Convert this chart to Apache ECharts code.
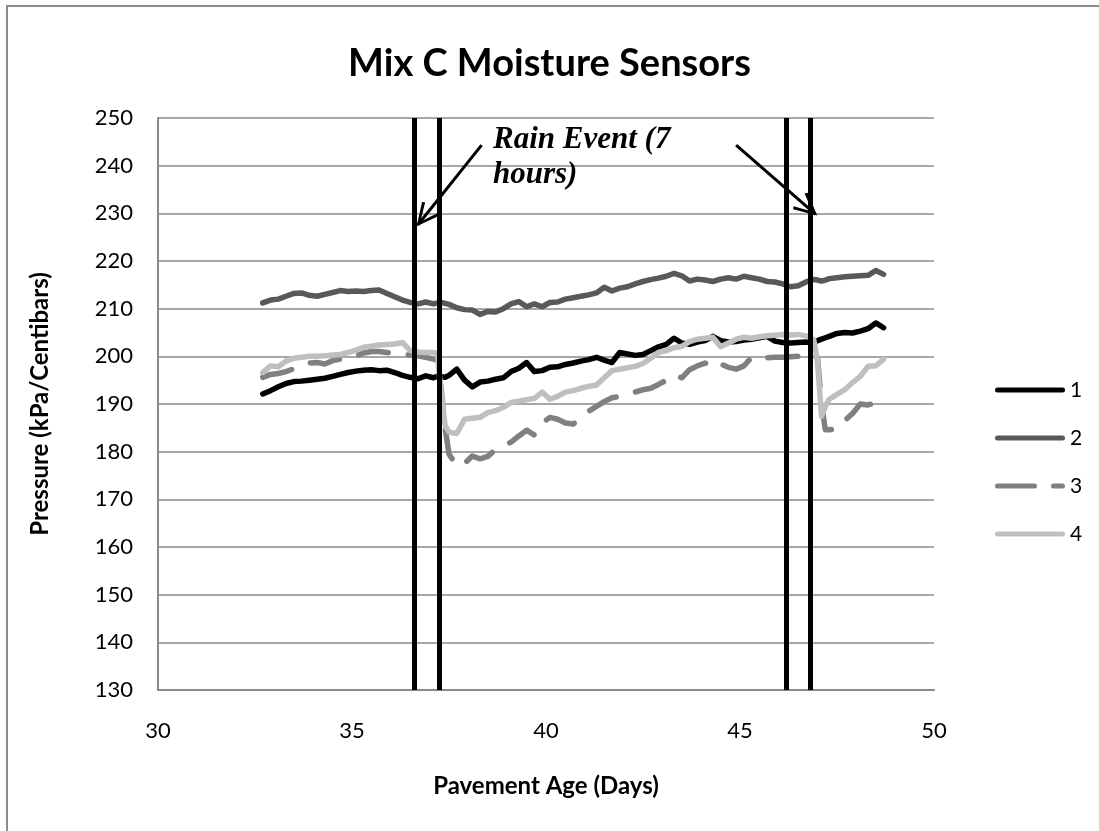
<!DOCTYPE html>
<html>
<head>
<meta charset="utf-8">
<script src="https://cdn.jsdelivr.net/npm/echarts@6/dist/echarts.min.js"></script>
<style>
  html, body { margin: 0; padding: 0; background: #fff; }
  #main { width: 1099px; height: 831px; }
</style>
</head>
<body>
<div id="main"></div>
<script>
// pavement age (days), shared by all four sensors
var days = [
  32.7, 32.9, 33.1, 33.3, 33.5, 33.7, 33.9, 34.1, 34.3, 34.5, 34.7, 34.9, 35.1, 35.3, 35.5, 35.7, 35.9, 36.1, 36.3, 36.5, 36.7, 36.9, 37.1,
  37.2, 37.3, 37.4,
  37.5, 37.7, 37.9, 38.1, 38.3, 38.5, 38.7, 38.9, 39.1, 39.3, 39.5, 39.7, 39.9, 40.1, 40.3, 40.5, 40.7, 40.9,
  41.1, 41.3, 41.5, 41.7, 41.9, 42.1, 42.3, 42.5, 42.7, 42.9, 43.1, 43.3, 43.5, 43.7, 43.9,
  44.1, 44.3, 44.5, 44.7, 44.9, 45.1, 45.3, 45.5, 45.7, 45.9, 46.1, 46.3, 46.5, 46.7, 46.9,
  47.0, 47.1, 47.2, 47.3,
  47.5, 47.7, 47.9, 48.1, 48.3, 48.5, 48.7
];

var sensor1 = [
  192.1, 192.8, 193.6, 194.3, 194.7, 194.8, 195.0, 195.2, 195.4, 195.8, 196.2, 196.6, 196.9, 197.1, 197.2, 197.0, 197.1, 196.6, 196.0, 195.6, 195.3, 195.9, 195.5,
  195.8, 195.7, 195.6,
  196.0, 197.3, 195.0, 193.6, 194.6, 194.8, 195.2, 195.5, 196.8, 197.5, 198.7, 196.8, 197.0, 197.7, 197.8, 198.3, 198.6, 199.0,
  199.3, 199.8, 199.2, 198.7, 200.8, 200.5, 200.2, 200.4, 201.2, 202.0, 202.5, 203.8, 202.8, 202.5, 203.0,
  203.3, 204.2, 203.3, 203.0, 203.1, 203.4, 203.6, 203.9, 204.2, 203.2, 202.9, 202.8, 202.9, 203.0, 202.9,
  203.3, 203.6, 203.9, 204.2,
  204.8, 205.0, 204.9, 205.3, 205.8, 207.0, 206.0
];

var sensor2 = [
  211.2, 211.8, 212.0, 212.6, 213.2, 213.3, 212.8, 212.6, 213.0, 213.4, 213.8, 213.6, 213.7, 213.6, 213.8, 213.9, 213.2, 212.5, 211.8, 211.3, 211.0, 211.4, 211.0,
  211.2, 211.3, 211.1,
  210.9, 210.2, 209.8, 209.7, 208.8, 209.4, 209.3, 210.0, 211.0, 211.5, 210.4, 211.0, 210.4, 211.3, 211.4, 212.0, 212.3, 212.6,
  212.9, 213.3, 214.5, 213.7, 214.3, 214.6, 215.2, 215.7, 216.1, 216.4, 216.8, 217.4, 216.9, 215.8, 216.2,
  216.0, 215.7, 216.2, 216.5, 216.2, 216.8, 216.5, 216.2, 215.7, 215.6, 215.2, 214.6, 214.8, 215.6, 216.1,
  216.0, 215.8, 216.0, 216.3,
  216.5, 216.7, 216.8, 216.9, 217.0, 218.0, 217.2
];

var sensor3 = [
  195.6, 196.2, 196.4, 196.8, 197.4, 198.2, 198.6, 198.7, 198.4, 199.1, 199.4, 199.6, 200.1, 200.7, 201.0, 201.0, 200.8, 200.6, 200.4, 200.3, 200.1, 199.8, 199.4,
  199.2, 193.0, 185.0,
  179.5, 177.0, 177.5, 179.1, 178.5, 179.0, 180.5, 181.2, 182.0, 183.3, 184.5, 183.5, 186.0, 187.2, 186.8, 186.0, 185.8, 187.0,
  188.5, 189.5, 190.5, 191.3, 191.6, 192.0, 192.5, 193.0, 193.3, 194.1, 195.0, 196.2, 195.5, 197.2, 198.0,
  198.6, 197.6, 198.4, 197.7, 197.3, 198.0, 199.8, 199.6, 199.7, 199.8, 199.8, 199.9, 200.0, 200.6, 200.5,
  199.5, 190.0, 184.6, 184.6,
  184.8, 186.5, 188.0, 190.0, 189.8, 190.3, 192.7
];

var sensor4 = [
  196.6, 198.0, 197.8, 199.0, 199.6, 199.8, 200.0, 200.0, 200.1, 200.3, 200.4, 200.8, 201.3, 201.9, 202.1, 202.4, 202.5, 202.6, 202.9, 201.2, 200.9, 200.8, 200.8,
  200.6, 192.0, 185.5,
  184.1, 183.8, 186.8, 187.0, 187.2, 188.2, 188.6, 189.3, 190.3, 190.6, 190.9, 191.2, 192.5, 191.0, 191.6, 192.5, 192.8, 193.3,
  193.7, 194.0, 195.5, 197.0, 197.3, 197.6, 197.9, 198.5, 199.6, 200.8, 201.2, 201.8, 202.1, 203.1, 203.6,
  203.8, 204.0, 202.0, 202.8, 203.6, 204.0, 203.8, 204.1, 204.3, 204.4, 204.6, 204.5, 204.6, 204.3, 203.5,
  198.7, 187.4, 189.5, 191.0,
  192.0, 193.0, 194.5, 195.8, 197.9, 198.0, 199.4
];

var seriesNames = ['1', '2', '3', '4'];
// start / end of the two 7-hour rain events
var rainLines = [36.6, 37.25, 46.2, 46.8];
// arrows from the note to the rain lines: [from, to] in (day, kPa)
var arrows = [
  [[38.34, 244.3], [36.7, 227.6]],
  [[44.9, 244.3], [46.95, 229.8]]
];

var xTicks = { min: 30, max: 50, interval: 5 };
var yTicks = { min: 130, max: 250, interval: 10 };

function zip(ys) {
  return days.map(function (d, i) { return [d, ys[i]]; });
}

var myChart = echarts.init(document.getElementById('main'));

var lbl = 'Lato';
var gridGray = '#8a8a8a';
var chevron = 'path://M10,0 L20,19 L17.6,20.5 L10,5 L2.4,20.5 L0,19 Z';
// legend swatches: a thick rounded bar, and the long-dash version
var solidIcon = 'path://M2.5,0 L67.5,0 A2.5,2.5 0 0 1 67.5,5 L2.5,5 A2.5,2.5 0 0 1 2.5,0 Z';
var dashIcon = 'path://M2.5,0 L39.5,0 A2.5,2.5 0 0 1 39.5,5 L2.5,5 A2.5,2.5 0 0 1 2.5,0 Z M58.5,0 L67.5,0 A2.5,2.5 0 0 1 67.5,5 L58.5,5 A2.5,2.5 0 0 1 58.5,0 Z';

function sensorSeries(name, ys, color, dash) {
  return {
    name: name,
    type: 'line',
    data: zip(ys),
    symbol: 'none',
    lineStyle: { color: color, width: 5.5, type: dash || 'solid', cap: 'round', join: 'round' },
    itemStyle: { color: color }
  };
}

var option = {
  backgroundColor: '#fff',
  animation: false,
  title: {
    text: 'Mix C Moisture Sensors',
    left: 'center',
    top: 40,
    textStyle: { fontFamily: lbl, fontWeight: 'bold', fontSize: 38, color: '#000' }
  },
  legend: {
    data: seriesNames.map(function (n) {
      return { name: n, icon: n === '3' ? dashIcon : solidIcon };
    }),
    orient: 'vertical',
    left: 990,
    top: 374,
    itemWidth: 70,
    itemHeight: 5,
    itemGap: 26,
    textStyle: { fontFamily: lbl, fontSize: 21, color: '#000', lineHeight: 22 }
  },
  grid: { left: 158, right: 165, top: 118, bottom: 141 },
  xAxis: {
    type: 'value',
    min: xTicks.min,
    max: xTicks.max,
    interval: xTicks.interval,
    name: 'Pavement Age (Days)',
    nameLocation: 'middle',
    nameGap: 84,
    nameTextStyle: { fontFamily: lbl, fontWeight: 'bold', fontSize: 24, color: '#000' },
    axisLine: { lineStyle: { color: gridGray, width: 2 } },
    axisTick: { show: false },
    splitLine: { show: false },
    axisLabel: { margin: 30, fontFamily: lbl, fontSize: 22, color: '#000' }
  },
  yAxis: {
    type: 'value',
    min: yTicks.min,
    max: yTicks.max,
    interval: yTicks.interval,
    name: 'Pressure (kPa/Centibars)',
    nameLocation: 'middle',
    nameGap: 106,
    nameTextStyle: { fontFamily: lbl, fontWeight: 'bold', fontSize: 24, color: '#000' },
    axisLine: { show: true, lineStyle: { color: gridGray, width: 2 } },
    axisTick: { show: false },
    splitLine: { lineStyle: { color: gridGray, width: 1.5 } },
    axisLabel: { margin: 25, fontFamily: lbl, fontSize: 22, color: '#000' }
  },
  graphic: [
    {
      type: 'rect',
      shape: { x: 7, y: 6, width: 1300, height: 1000 },
      style: { fill: 'none', stroke: '#8c8c8c', lineWidth: 2 },
      silent: true
    },
    {
      type: 'text',
      left: 493,
      top: 122,
      z: 100,
      style: {
        text: 'Rain Event (7\nhours)',
        font: 'italic bold 31px "Liberation Serif"',
        lineHeight: 35,
        fill: '#000'
      }
    }
  ],
  series: [
    sensorSeries('1', sensor1, '#000000'),
    sensorSeries('2', sensor2, '#595959'),
    sensorSeries('3', sensor3, '#808080', [30, 20]),
    sensorSeries('4', sensor4, '#bfbfbf'),
    {
      name: 'rain',
      type: 'line',
      data: [],
      z: 10,
      markLine: {
        silent: true,
        symbol: ['none', 'none'],
        label: { show: false },
        lineStyle: { color: '#000', width: 5, type: 'solid' },
        data: rainLines.map(function (d) { return { xAxis: d }; })
      }
    },
    {
      name: 'note',
      type: 'line',
      data: [],
      z: 11,
      markLine: {
        silent: true,
        symbol: ['none', chevron],
        symbolSize: [22, 24],
        symbolOffset: [0, [0, 10]],
        label: { show: false },
        lineStyle: { color: '#000', width: 3, type: 'solid' },
        itemStyle: { color: '#000' },
        data: arrows.map(function (a) {
          return [{ coord: a[0] }, { coord: a[1] }];
        })
      }
    }
  ]
};

myChart.setOption(option);
</script>
</body>
</html>
